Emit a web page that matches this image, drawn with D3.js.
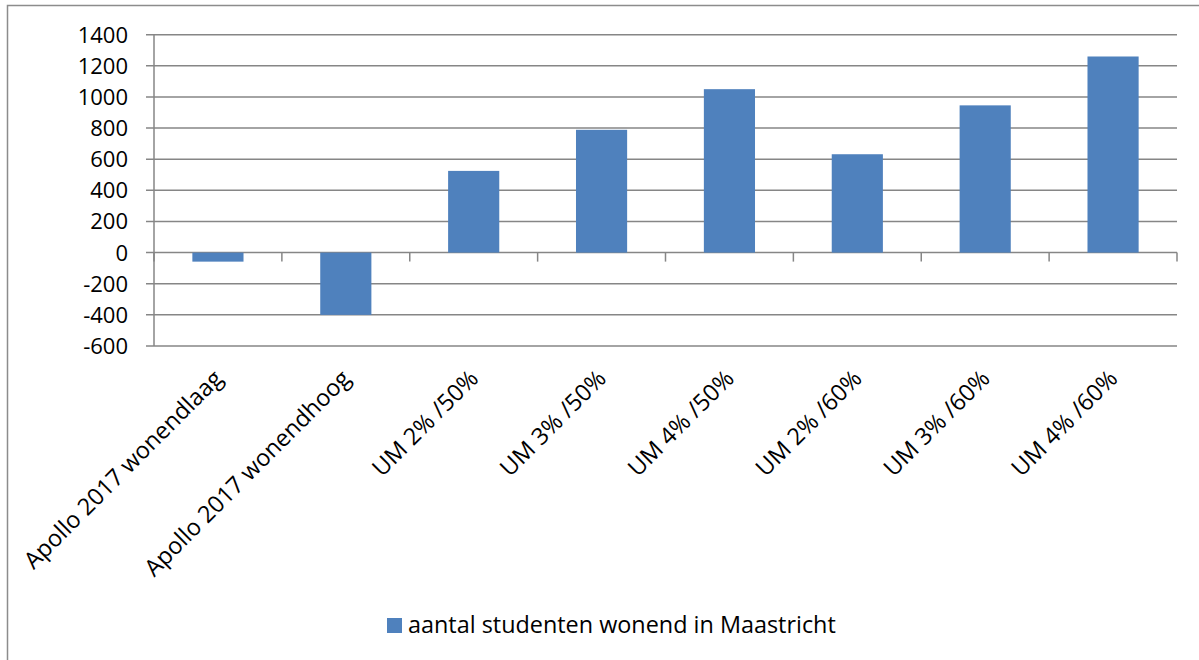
<!DOCTYPE html>
<html><head><meta charset="utf-8">
<script src="https://cdn.jsdelivr.net/npm/d3@7"></script>
<style>
html,body{margin:0;padding:0;background:#fff;}
svg{display:block;font-family:"Open Sans",Lato,sans-serif;}
</style></head>
<body><svg id="c" width="1199" height="660"></svg>
<script>
const categories = ["Apollo 2017 wonendlaag","Apollo 2017 wonendhoog","UM 2% /50%","UM 3% /50%","UM 4% /50%","UM 2% /60%","UM 3% /60%","UM 4% /60%"];
const values = [-58, -400, 525, 789, 1050, 632, 946, 1260];
const yTicks = [-600,-400,-200,0,200,400,600,800,1000,1200,1400];
const seriesName = "aantal studenten wonend in Maastricht";

const svg = d3.select("#c");
const L = 154, R = 1177, T = 34.7, B = 346;
const gridColor = "#868686";
const barColor = "#4F81BD";

// outer frame
svg.append("path").attr("d","M7.5,660 V5.5 H1199").attr("fill","none").attr("stroke","#8c8c8c").attr("stroke-width",1.5);

const y = d3.scaleLinear().domain([-600,1400]).range([B,T]);
const x = d3.scaleBand().domain(categories).range([L,R]).paddingInner(0.6).paddingOuter(0.3);
const step = x.step();

// gridlines
svg.append("g").selectAll("line").data(yTicks).join("line")
  .attr("x1",L-8).attr("x2",R).attr("y1",d=>y(d)).attr("y2",d=>y(d))
  .attr("stroke",gridColor).attr("stroke-width",1.5);

// y axis line
svg.append("line").attr("x1",L).attr("x2",L).attr("y1",T).attr("y2",B).attr("stroke",gridColor).attr("stroke-width",1.5);

// y tick labels
svg.append("g").selectAll("text").data(yTicks).join("text")
  .attr("x",128).attr("y",d=>y(d)).attr("dy","0.36em").attr("text-anchor","end")
  .attr("font-size",22).attr("fill","#000").text(d=>d);

// bars
svg.append("g").selectAll("rect").data(values).join("rect")
  .attr("x",(d,i)=>x(categories[i])).attr("width",x.bandwidth())
  .attr("y",d=>y(Math.max(0,d))).attr("height",d=>Math.abs(y(d)-y(0)))
  .attr("fill",barColor);

// category ticks
const bounds = d3.range(categories.length+1).map(i=>L+i*step);
svg.append("g").selectAll("line").data(bounds).join("line")
  .attr("x1",d=>d).attr("x2",d=>d).attr("y1",y(0)).attr("y2",y(0)+9)
  .attr("stroke",gridColor).attr("stroke-width",1.5);

// category labels
svg.append("g").selectAll("text").data(categories).join("text")
  .attr("transform",d=>`translate(${x(d)+x.bandwidth()/2+6},${380}) rotate(-45)`)
  .attr("text-anchor","end").attr("font-size",23.5).attr("fill","#000").text(d=>d);

// legend
const lg = svg.append("g");
lg.append("rect").attr("x",387).attr("y",618).attr("width",15).attr("height",15).attr("fill",barColor);
lg.append("text").attr("x",408).attr("y",633).attr("font-size",23.4).attr("fill","#000").text(seriesName);
</script></body></html>
